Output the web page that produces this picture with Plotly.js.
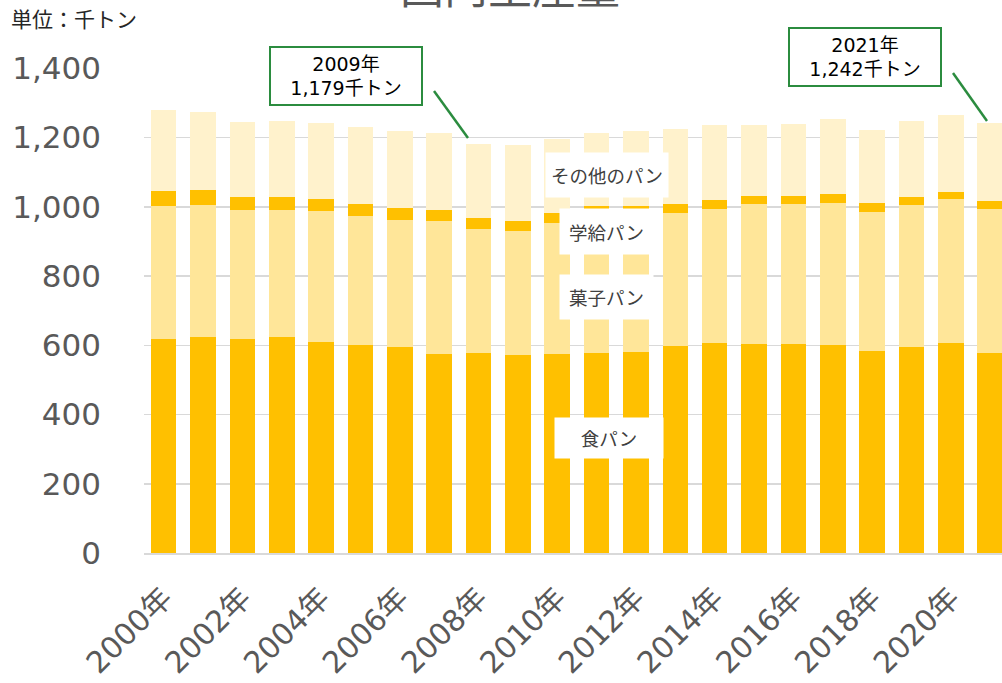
<!DOCTYPE html>
<html>
<head>
<meta charset="utf-8">
<script src="https://cdn.plot.ly/plotly-3.0.1.min.js"></script>
<style>html,body{margin:0;padding:0;background:#fff;}#chart{width:1002px;height:683px;}</style>
</head>
<body>
<div id="chart"></div>
<script>
// Categories
const years = ["2000年","2001年","2002年","2003年","2004年","2005年","2006年","2007年","2008年","2009年","2010年",
  "2011年","2012年","2013年","2014年","2015年","2016年","2017年","2018年","2019年","2020年","2021年"];
// Series values (千トン)
const shokuPan  = [617, 624, 617, 624, 610, 600, 594, 574, 577, 571, 574, 578, 580, 598, 607, 603, 603, 600, 583, 594, 606, 577];
const kashiPan  = [385, 382, 373, 366, 377, 373, 368, 384, 359, 358, 378, 396, 396, 383, 388, 404, 404, 412, 402, 410, 416, 417];
const gakkyuPan = [43, 42, 38, 38, 36, 35, 35, 34, 32, 29, 29, 28, 27, 26, 26, 25, 24, 24, 26, 24, 21, 24];
const otherPan  = [234, 225, 217, 219, 220, 223, 221, 220, 214, 221, 214, 212, 216, 219, 214, 203, 208, 218, 210, 219, 222, 224];
const seriesNames = ["食パン", "菓子パン", "学給パン", "その他のパン"];
const tickLabels = years.filter((y, i) => i % 2 === 0);
const yTicks = [0, 200, 400, 600, 800, 1000, 1200, 1400];

const FONT = "'DejaVu Sans', 'Noto Sans CJK JP', sans-serif";
const JFONT = "'Noto Sans CJK JP', 'DejaVu Sans', sans-serif";
const colors = ["#FFC000", "#FFE699", "#FFC000", "#FFF2CC"];
const vals = [shokuPan, kashiPan, gakkyuPan, otherPan];

const traces = vals.map((v, k) => ({
  type: "bar", x: years, y: v, name: seriesNames[k],
  marker: {color: colors[k], line: {width: 0}},
  hoverinfo: "skip"
}));

// pixel helpers for plot area (l=144, r=1002, t=68, b=553)
const L = 144, R = 1002, T = 68, B = 553;
const px = x => (x - L) / (R - L);
const py = y => (B - y) / (B - T);

const labelAnn = (text, x, y, w, h) => ({
  text: text, xref: "paper", yref: "paper", x: px(x), y: py(y),
  xanchor: "center", yanchor: "middle", showarrow: false,
  bgcolor: "#ffffff", width: w, height: h, borderpad: 0,
  font: {family: JFONT, size: 18.5, color: "#404040"}
});
const boxAnn = (text, x, y) => ({
  text: text, xref: "paper", yref: "paper", x: px(x), y: py(y),
  xanchor: "center", yanchor: "middle", showarrow: false,
  bgcolor: "#ffffff", bordercolor: "#2B8C3F", borderwidth: 2, borderpad: 0,
  width: 150, height: 56,
  font: {family: FONT, size: 19, color: "#000000"}
});

const layout = {
  width: 1002, height: 683,
  margin: {l: L, r: 1002 - R, t: T, b: 683 - B, pad: 0},
  paper_bgcolor: "#ffffff", plot_bgcolor: "#ffffff",
  barmode: "stack", bargap: 0.35, showlegend: false,
  xaxis: {
    type: "category", range: [-0.5, 21.3],
    tickvals: tickLabels, ticktext: tickLabels,
    tickangle: -45, ticks: "", showgrid: false,
    showline: true, linecolor: "#D9D9D9", linewidth: 1.5,
    ticklabelstandoff: 14,
    tickfont: {family: FONT, size: 30, color: "#595959"},
    fixedrange: true
  },
  yaxis: {
    range: [0, 1401], tickvals: yTicks,
    ticktext: yTicks.map(v => v.toLocaleString("en-US")),
    showgrid: true, gridcolor: "#D9D9D9", gridwidth: 1.5,
    zeroline: false, showline: false, ticks: "",
    ticklabelstandoff: 42,
    tickfont: {family: FONT, size: 31, color: "#595959"},
    fixedrange: true
  },
  annotations: [
    {text: "国内生産量", xref: "paper", yref: "paper", x: px(510), y: py(13),
     xanchor: "center", yanchor: "bottom", yshift: -6, showarrow: false,
     font: {family: JFONT, size: 44, color: "#595959"}},
    {text: "単位：千トン", xref: "paper", yref: "paper", x: px(9), y: py(18),
     xanchor: "left", yanchor: "middle", showarrow: false,
     font: {family: JFONT, size: 21, color: "#262626"}},
    labelAnn("その他のパン", 607, 175, 122, 44),
    labelAnn("学給パン", 606, 231, 93, 45),
    labelAnn("菓子パン", 606, 297, 93, 44),
    labelAnn("食パン", 609, 438, 108, 40),
    boxAnn("2009年<br>1,179千トン", 346, 76),
    boxAnn("2021年<br>1,242千トン", 864.5, 57)
  ],
  shapes: [
    {type: "line", xref: "paper", yref: "paper", x0: px(434), y0: py(91), x1: px(468), y1: py(138),
     line: {color: "#2B8C3F", width: 2.5}},
    {type: "line", xref: "paper", yref: "paper", x0: px(953), y0: py(73), x1: px(987), y1: py(121),
     line: {color: "#2B8C3F", width: 2.5}}
  ]
};

Plotly.newPlot("chart", traces, layout, {displayModeBar: false, staticPlot: true});
</script>
</body>
</html>
